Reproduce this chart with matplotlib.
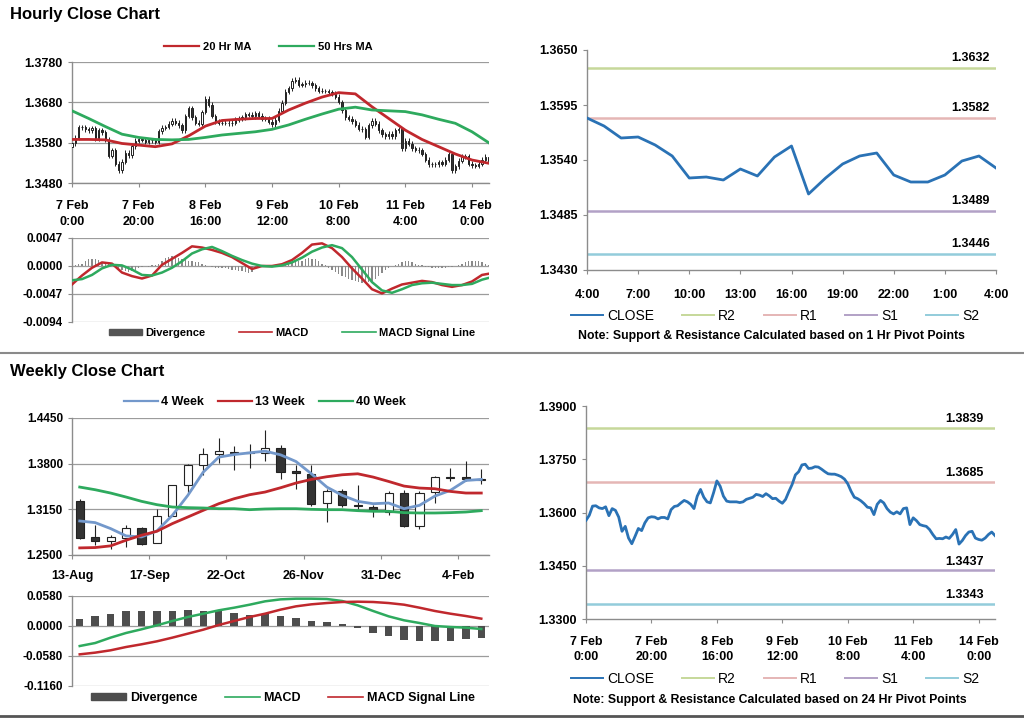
import matplotlib
matplotlib.use("Agg")
import matplotlib.pyplot as plt
from matplotlib.lines import Line2D
from matplotlib.patches import Patch

plt.rcParams['font.family'] = ['Liberation Sans', 'DejaVu Sans']
plt.rcParams['font.weight'] = 'bold'

# ---- hourly data (7 Feb 0:00 .. 14 Feb 5:00) ----
hourly_close = [
    1.3578, 1.3592, 1.3618, 1.3619, 1.3613, 1.3611, 1.3616, 1.3591, 1.3611, 1.3606,
    1.3587, 1.3547, 1.3561, 1.3528, 1.3512, 1.3533, 1.3555, 1.3549, 1.3571, 1.3585,
    1.3588, 1.3587, 1.3582, 1.3586, 1.3586, 1.3582, 1.3608, 1.3617, 1.3619, 1.3627,
    1.3634, 1.3630, 1.3623, 1.3611, 1.3646, 1.3665, 1.3643, 1.3630, 1.3627, 1.3656,
    1.3689, 1.3674, 1.3646, 1.3632, 1.3630, 1.3630, 1.3630, 1.3628, 1.3630, 1.3637,
    1.3640, 1.3643, 1.3651, 1.3649, 1.3645, 1.3653, 1.3647, 1.3639, 1.3640, 1.3632,
    1.3626, 1.3637, 1.3659, 1.3679, 1.3706, 1.3715, 1.3734, 1.3736, 1.3724, 1.3725,
    1.3729, 1.3728, 1.3722, 1.3715, 1.3709, 1.3708, 1.3708, 1.3705, 1.3701, 1.3694,
    1.3681, 1.3660, 1.3643, 1.3639, 1.3633, 1.3625, 1.3615, 1.3613, 1.3594, 1.3623,
    1.3634, 1.3627, 1.3611, 1.3601, 1.3596, 1.3602, 1.3596, 1.3611, 1.3613, 1.3566,
    1.3585, 1.3577, 1.3566, 1.3563, 1.3561, 1.3552, 1.3538, 1.3526, 1.3527, 1.3526,
    1.3531, 1.3527, 1.3538, 1.3552, 1.3511, 1.3521, 1.3535, 1.3545, 1.3547, 1.3528,
    1.3524, 1.3522, 1.3528, 1.3538, 1.3545, 1.3535]
first_open = 1.3570
hourly_open = [first_open] + hourly_close[:-1]
WICK = 0.0006

ma_hours = [0, 5, 10, 15, 20, 25, 30, 35, 40, 45, 50, 55, 60, 65, 70, 75, 80, 85,
            90, 95, 100, 105, 110, 115, 120, 125]
ma20 = [1.3588, 1.3588, 1.3587, 1.3578, 1.3574, 1.3570, 1.3577, 1.3597, 1.3621, 1.3635,
        1.3638, 1.3640, 1.3640, 1.3661, 1.3678, 1.3693, 1.3704, 1.3701, 1.3669, 1.3640,
        1.3611, 1.3588, 1.3570, 1.3552, 1.3537, 1.3529]
ma50 = [1.3659, 1.3640, 1.3620, 1.3601, 1.3593, 1.3588, 1.3587, 1.3588, 1.3593, 1.3599,
        1.3603, 1.3607, 1.3613, 1.3624, 1.3638, 1.3651, 1.3663, 1.3668, 1.3661, 1.3659,
        1.3657, 1.3649, 1.3638, 1.3628, 1.3607, 1.3580]

macd_hours = [0, 3, 6, 9, 12, 15, 18, 21, 24, 27, 30, 33, 36, 39, 42, 45, 48, 51, 54, 57,
              60, 63, 66, 69, 72, 75, 78, 81, 84, 87, 90, 93, 96, 99, 102, 105, 108, 111,
              114, 117, 120, 123, 125]
macd_h = [-0.0031, -0.0016, -0.0003, 0.0006, 0.0004, -0.0011, -0.0017, -0.0021, -0.0016, 0.0002,
          0.0012, 0.0022, 0.0033, 0.0031, 0.0027, 0.0022, 0.0015, 0.0005, -0.0005, 0.0000,
          0.0000, 0.0003, 0.0010, 0.0022, 0.0036, 0.0038, 0.0030, 0.0015, -0.0004, -0.0021,
          -0.0039, -0.0046, -0.0038, -0.0031, -0.0028, -0.0025, -0.0027, -0.0032, -0.0035, -0.0032,
          -0.0026, -0.0015, -0.0013]
signal_h = [-0.0024, -0.0022, -0.0015, -0.0004, 0.0002, 0.0001, -0.0006, -0.0015, -0.0016, -0.0011,
            -0.0003, 0.0008, 0.0021, 0.0028, 0.0032, 0.0025, 0.0017, 0.0010, 0.0004, 0.0000,
            -0.0001, 0.0001, 0.0006, 0.0014, 0.0024, 0.0031, 0.0035, 0.0030, 0.0015, -0.0006,
            -0.0027, -0.0041, -0.0045, -0.0039, -0.0032, -0.0029, -0.0028, -0.0030, -0.0032, -0.0032,
            -0.0030, -0.0023, -0.0020]
diverg_h = [
    -0.0001, 0.0002, 0.0003, 0.0004, 0.0008, 0.0011, 0.0012, 0.0012, 0.0010, 0.0007,
    0.0005, 0.0004, 0.0002, -0.0001, -0.0004, -0.0007, -0.0008, -0.0010, -0.0009, -0.0007,
    -0.0004, -0.0002, 0.0000, -0.0001, 0.0001, 0.0001, 0.0004, 0.0009, 0.0013, 0.0015,
    0.0017, 0.0015, 0.0013, 0.0012, 0.0011, 0.0009, 0.0008, 0.0007, 0.0006, 0.0004,
    0.0002, 0.0000, -0.0002, -0.0003, -0.0003, -0.0004, -0.0004, -0.0005, -0.0006, -0.0006,
    -0.0008, -0.0009, -0.0010, -0.0012, -0.0010, -0.0004, -0.0002, -0.0001, 0.0000, 0.0000,
    -0.0001, 0.0000, 0.0001, 0.0001, 0.0002, 0.0003, 0.0005, 0.0008, 0.0009, 0.0009,
    0.0012, 0.0013, 0.0012, 0.0012, 0.0008, 0.0004, 0.0001, -0.0003, -0.0006, -0.0010,
    -0.0013, -0.0016, -0.0018, -0.0021, -0.0024, -0.0026, -0.0027, -0.0029, -0.0028, -0.0027,
    -0.0026, -0.0021, -0.0017, -0.0011, -0.0007, -0.0003, 0.0000, 0.0002, 0.0004, 0.0006,
    0.0008, 0.0008, 0.0006, 0.0004, 0.0002, 0.0001, -0.0001, -0.0002, -0.0003, -0.0003,
    -0.0003, -0.0003, -0.0003, -0.0002, -0.0001, 0.0000, 0.0002, 0.0004, 0.0006, 0.0008,
    0.0009, 0.0009, 0.0008, 0.0007, 0.0004, 0.0001]

hourly_ticks = [0, 20, 40, 60, 80, 100, 120]
hourly_labels = ["7 Feb\n0:00", "7 Feb\n20:00", "8 Feb\n16:00", "9 Feb\n12:00",
                 "10 Feb\n8:00", "11 Feb\n4:00", "14 Feb\n0:00"]

# ---- last 24 hours, 1 hr pivots ----
last24_close = [1.3582, 1.3574, 1.3562, 1.3563, 1.3555, 1.3544, 1.3522, 1.3523, 1.3520, 1.3531,
                1.3524, 1.3543, 1.3554, 1.3506, 1.3522, 1.3536, 1.3544, 1.3547, 1.3525, 1.3518,
                1.3518, 1.3525, 1.3539, 1.3544, 1.3532]
last24_labels = ["4:00", "7:00", "10:00", "13:00", "16:00", "19:00", "22:00", "1:00", "4:00"]
pivot1 = {"R2": 1.3632, "R1": 1.3582, "S1": 1.3489, "S2": 1.3446}
pivot24 = {"R2": 1.3839, "R1": 1.3685, "S1": 1.3437, "S2": 1.3343}

# ---- weekly data (13-Aug .. 11-Feb) ----
wk_open = [1.3268, 1.2757, 1.2701, 1.2748, 1.2890, 1.2672, 1.3051, 1.3491, 1.3784, 1.3940,
           1.3973, 1.3962, 1.3949, 1.4030, 1.3690, 1.3656, 1.3235, 1.3415, 1.3216, 1.3183,
           1.3112, 1.3377, 1.2909, 1.3391, 1.3609, 1.3609, 1.3585]
wk_close = [1.2748, 1.2701, 1.2753, 1.2890, 1.2663, 1.3051, 1.3500, 1.3784, 1.3935, 1.3978,
            1.3949, 1.3956, 1.4020, 1.3680, 1.3670, 1.3230, 1.3415, 1.3216, 1.3193, 1.3136,
            1.3377, 1.2909, 1.3382, 1.3609, 1.3600, 1.3576, 1.3561]
wk_high = [1.3301, 1.2923, 1.2781, 1.2923, 1.2904, 1.3150, 1.3500, 1.3798, 1.4020, 1.4162,
           1.4049, 1.4077, 1.4280, 1.4072, 1.3774, 1.3784, 1.3443, 1.3443, 1.3495, 1.3207,
           1.3415, 1.3424, 1.3415, 1.3623, 1.3741, 1.3845, 1.3727]
wk_low = [1.2734, 1.2649, 1.2592, 1.2615, 1.2639, 1.2672, 1.3051, 1.3382, 1.3632, 1.3807,
          1.3703, 1.3737, 1.3845, 1.3585, 1.3443, 1.3197, 1.2970, 1.3178, 1.3159, 1.3041,
          1.3064, 1.2899, 1.2866, 1.3235, 1.3547, 1.3547, 1.3514]
wk_ma4 = [1.2984, 1.2961, 1.2876, 1.2772, 1.2757, 1.2843, 1.3065, 1.3349, 1.3680, 1.3893,
          1.3930, 1.3954, 1.3978, 1.3926, 1.3831, 1.3656, 1.3467, 1.3349, 1.3264, 1.3230,
          1.3240, 1.3159, 1.3207, 1.3339, 1.3420, 1.3561, 1.3576]
wk_ma13 = [1.2601, 1.2606, 1.2630, 1.2710, 1.2781, 1.2838, 1.2947, 1.3041, 1.3136, 1.3230,
           1.3301, 1.3358, 1.3396, 1.3457, 1.3524, 1.3576, 1.3614, 1.3642, 1.3656, 1.3609,
           1.3547, 1.3481, 1.3453, 1.3443, 1.3405, 1.3382, 1.3382]
wk_ma40 = [1.3467, 1.3429, 1.3382, 1.3325, 1.3264, 1.3216, 1.3183, 1.3174, 1.3169, 1.3159,
           1.3159, 1.3145, 1.3155, 1.3159, 1.3159, 1.3150, 1.3145, 1.3145, 1.3131, 1.3122,
           1.3122, 1.3103, 1.3098, 1.3098, 1.3103, 1.3112, 1.3131]
wk_diverg = [0.0142, 0.0187, 0.0238, 0.0283, 0.0283, 0.0283, 0.0283, 0.0316, 0.0283, 0.0283,
             0.0258, 0.0219, 0.0238, 0.0187, 0.0161, 0.0097, 0.0071, 0.0039, -0.0039, -0.0129,
             -0.0200, -0.0264, -0.0290, -0.0290, -0.0290, -0.0245, -0.0225]
wk_macd = [-0.0387, -0.0329, -0.0225, -0.0135, -0.0064, 0.0013, 0.0097, 0.0174, 0.0238, 0.0303,
           0.0354, 0.0412, 0.0477, 0.0515, 0.0528, 0.0528, 0.0522, 0.0483, 0.0399, 0.0290,
           0.0187, 0.0110, 0.0058, 0.0000, -0.0019, -0.0032, -0.0058]
wk_signal = [-0.0548, -0.0515, -0.0470, -0.0406, -0.0354, -0.0296, -0.0225, -0.0148, -0.0071, 0.0019,
             0.0097, 0.0174, 0.0238, 0.0316, 0.0380, 0.0419, 0.0444, 0.0464, 0.0470, 0.0464,
             0.0444, 0.0412, 0.0354, 0.0290, 0.0238, 0.0193, 0.0142]
wk_tick_pos = [-0.5, 4.5, 9.5, 14.5, 19.5, 24.5]
wk_tick_labels = ["13-Aug", "17-Sep", "22-Oct", "26-Nov", "31-Dec", "4-Feb"]

RED = "#c0282d"
GREEN = "#2eaa5e"
BLUE = "#2a72b5"
LIGHTBLUE = "#7398cb"
GRID = "#9c9c9c"
AXC = "#8c8c8c"
LEVEL_COLORS = {"R2": "#c6d89a", "R1": "#e5b6b5", "S1": "#b2a1c6", "S2": "#93ccdb"}

W, H = 1024, 718
fig = plt.figure(figsize=(W / 100, H / 100), dpi=100)


def px_axes(l, t, r, b):
    return fig.add_axes([l / W, 1 - b / H, (r - l) / W, (b - t) / H])


def style(ax, yticks, fs, grid=True):
    ax.set_yticks(yticks)
    ax.set_yticklabels(["{:.4f}".format(v) for v in yticks])
    ax.set_ylim(min(yticks), max(yticks))
    for s in ["top", "right"]:
        ax.spines[s].set_visible(False)
    for s in ["left", "bottom"]:
        ax.spines[s].set_color(AXC)
        ax.spines[s].set_linewidth(1.0)
    ax.tick_params(labelsize=fs, labelcolor="#000000", length=3, width=0.8, color=AXC)
    if grid:
        ax.grid(axis="y", color=GRID, lw=0.9)
        ax.set_axisbelow(True)


def candles(ax, x, o, c, hi, lo, width, lw):
    for xi, oi, ci, h, l in zip(x, o, c, hi, lo):
        ax.plot([xi, xi], [l, h], color="#222222", lw=lw, zorder=2, solid_capstyle="butt")
        fill = "#333333" if ci < oi else "white"
        ax.bar(xi, abs(ci - oi), bottom=min(oi, ci), width=width, color=fill,
               edgecolor="#222222", lw=lw, zorder=3)


def line_handle(color, lw=1.6):
    return Line2D([], [], color=color, lw=lw)


# ---------------- Hourly price ----------------
ax1 = px_axes(72, 62, 489, 183)
hx = list(range(len(hourly_close)))
hi = [max(o, c) + WICK for o, c in zip(hourly_open, hourly_close)]
lo = [min(o, c) - WICK for o, c in zip(hourly_open, hourly_close)]
candles(ax1, hx, hourly_open, hourly_close, hi, lo, 0.45, 0.7)
ax1.plot(ma_hours, ma20, color=RED, lw=2.0, zorder=4)
ax1.plot(ma_hours, ma50, color=GREEN, lw=2.0, zorder=4)
style(ax1, [1.3480, 1.3580, 1.3680, 1.3780], 9)
ax1.set_xlim(0, 125.1)
ax1.set_xticks(hourly_ticks)
ax1.set_xticklabels(hourly_labels, linespacing=1.45)
ax1.tick_params(axis="x", pad=9)
ax1.legend([line_handle(RED), line_handle(GREEN)], ["20 Hr MA", "50 Hrs MA"], ncol=2,
           loc="center", bbox_to_anchor=(268 / W, 1 - 47 / H), bbox_transform=fig.transFigure,
           frameon=False, fontsize=8, handlelength=3.2, columnspacing=2.5, handletextpad=0.3)

# ---------------- Hourly MACD ----------------
ax2 = px_axes(72, 238, 489, 322)
ax2.bar(hx, diverg_h, width=0.35, color="#8a8a8a", zorder=2)
ax2.plot(macd_hours, macd_h, color=RED, lw=1.8, zorder=3)
ax2.plot(macd_hours, signal_h, color=GREEN, lw=1.8, zorder=3)
style(ax2, [-0.0094, -0.0047, 0.0, 0.0047], 8.5)
ax2.set_xlim(0, 125.1)
ax2.set_xticks([])
ax2.spines["bottom"].set_visible(False)
ax2.legend([Patch(color="#555555"), line_handle(RED, 1.2), line_handle(GREEN, 1.2)],
           ["Divergence", "MACD", "MACD Signal Line"], ncol=3, loc="center",
           bbox_to_anchor=(292 / W, 1 - 333 / H), bbox_transform=fig.transFigure,
           frameon=False, fontsize=8, handlelength=3.0, handleheight=0.5,
           columnspacing=3.0, handletextpad=0.3)

# ---------------- 1 Hr pivot chart ----------------
ax3 = px_axes(587, 50, 996, 270)
lx = list(range(len(last24_close)))
for name, val in pivot1.items():
    ax3.axhline(val, color=LEVEL_COLORS[name], lw=1.8, zorder=1)
    ax3.text(0.985, val + 0.00035, f"{val:.4f}", transform=ax3.get_yaxis_transform(),
             ha="right", va="bottom", fontsize=9)
ax3.plot(lx, last24_close, color=BLUE, lw=2.0, zorder=3)
style(ax3, [1.3430, 1.3485, 1.3540, 1.3595, 1.3650], 9, grid=False)
ax3.set_xlim(0, 24)
ax3.set_xticks(list(range(0, 25, 3)))
ax3.set_xticklabels(last24_labels)
ax3.tick_params(axis="x", pad=11)
handles = [line_handle(BLUE, 1.4)] + [line_handle(LEVEL_COLORS[k], 1.4) for k in pivot1]
ax3.legend(handles, ["CLOSE"] + list(pivot1.keys()), ncol=5, loc="center",
           bbox_to_anchor=(775 / W, 1 - 316 / H), bbox_transform=fig.transFigure,
           frameon=False, prop={"size": 10, "weight": "normal"}, handlelength=2.3,
           columnspacing=2.0, handletextpad=0.3)
fig.text(771 / W, 1 - 336 / H, "Note: Support & Resistance Calculated based on 1 Hr Pivot Points",
         ha="center", va="center", fontsize=8.8)

# ---------------- Weekly price ----------------
ax4 = px_axes(72, 418, 489, 555)
wx = list(range(len(wk_close)))
candles(ax4, wx, wk_open, wk_close, wk_high, wk_low, 0.52, 0.8)
ax4.plot(wx, wk_ma4, color=LIGHTBLUE, lw=2.0, zorder=4)
ax4.plot(wx, wk_ma13, color=RED, lw=2.0, zorder=4)
ax4.plot(wx, wk_ma40, color=GREEN, lw=2.0, zorder=4)
style(ax4, [1.2500, 1.3150, 1.3800, 1.4450], 8.5)
ax4.set_xlim(-0.5, 26.5)
ax4.set_xticks(wk_tick_pos)
ax4.set_xticklabels(wk_tick_labels)
ax4.tick_params(axis="x", pad=8, labelsize=9)
ax4.legend([line_handle(LIGHTBLUE), line_handle(RED), line_handle(GREEN)],
           ["4 Week", "13 Week", "40 Week"], ncol=3, loc="center",
           bbox_to_anchor=(265 / W, 1 - 402 / H), bbox_transform=fig.transFigure,
           frameon=False, fontsize=9, handlelength=2.7, columnspacing=1.1, handletextpad=0.3)

# ---------------- Weekly MACD ----------------
ax5 = px_axes(72, 596, 489, 686)
ax5.bar(wx, wk_diverg, width=0.48, color="#4d4d4d", zorder=2)
ax5.plot(wx, wk_macd, color=GREEN, lw=1.8, zorder=3)
ax5.plot(wx, wk_signal, color=RED, lw=1.8, zorder=3)
style(ax5, [-0.1160, -0.0580, 0.0, 0.0580], 8.5)
ax5.set_xlim(-0.5, 26.5)
ax5.set_xticks([])
ax5.spines["bottom"].set_visible(False)
ax5.legend([Patch(color="#4d4d4d"), line_handle(GREEN, 1.2), line_handle(RED, 1.2)],
           ["Divergence", "MACD", "MACD Signal Line"], ncol=3, loc="center",
           bbox_to_anchor=(283 / W, 1 - 698 / H), bbox_transform=fig.transFigure,
           frameon=False, fontsize=9, handlelength=2.8, handleheight=0.5,
           columnspacing=2.2, handletextpad=0.3)

# ---------------- 24 Hr pivot chart ----------------
ax6 = px_axes(586, 406, 995, 619)
for name, val in pivot24.items():
    ax6.axhline(val, color=LEVEL_COLORS[name], lw=1.8, zorder=1)
    ax6.text(0.973, val + 0.0008, f"{val:.4f}", transform=ax6.get_yaxis_transform(),
             ha="right", va="bottom", fontsize=9)
ax6.plot(hx, hourly_close, color=BLUE, lw=2.0, zorder=3)
style(ax6, [1.3300, 1.3450, 1.3600, 1.3750, 1.3900], 9, grid=False)
ax6.set_xlim(0, 125)
ax6.set_xticks(hourly_ticks)
ax6.set_xticklabels(hourly_labels, linespacing=1.4)
ax6.tick_params(axis="x", pad=9)
handles = [line_handle(BLUE, 1.4)] + [line_handle(LEVEL_COLORS[k], 1.4) for k in pivot24]
ax6.legend(handles, ["CLOSE"] + list(pivot24.keys()), ncol=5, loc="center",
           bbox_to_anchor=(775 / W, 1 - 679 / H), bbox_transform=fig.transFigure,
           frameon=False, prop={"size": 10, "weight": "normal"}, handlelength=2.3,
           columnspacing=2.0, handletextpad=0.3)
fig.text(770 / W, 1 - 700 / H, "Note: Support & Resistance Calculated based on 24 Hr Pivot Points",
         ha="center", va="center", fontsize=8.8)

# ---------------- titles and separators ----------------
fig.text(10 / W, 1 - 15 / H, "Hourly Close Chart", ha="left", va="center", fontsize=12)
fig.text(10 / W, 1 - 372 / H, "Weekly Close Chart", ha="left", va="center", fontsize=12)
fig.add_artist(Line2D([0, 1], [1 - 353 / H, 1 - 353 / H], color="#8a8a8a", lw=1.5))
fig.add_artist(Line2D([0, 1], [1 - 716 / H, 1 - 716 / H], color="#555555", lw=2.0))

fig.savefig("out.png", dpi=100)
